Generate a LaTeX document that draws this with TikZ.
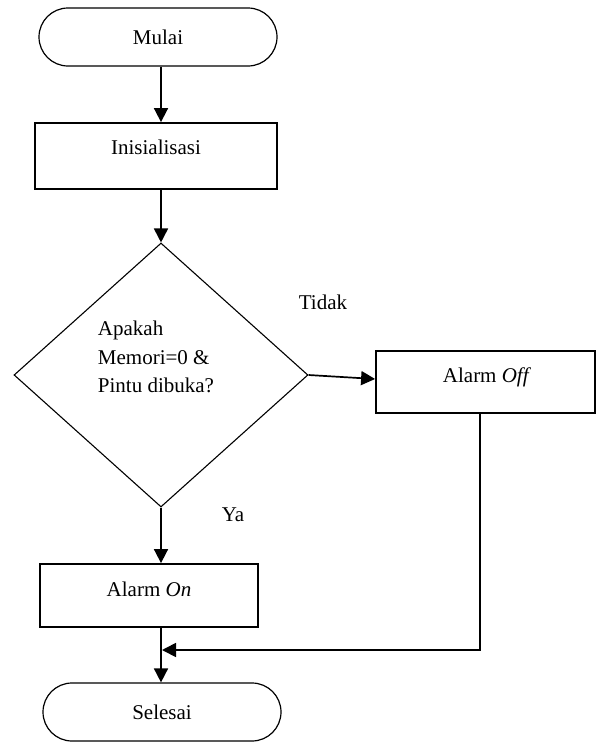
\documentclass[tikz,border=0pt]{standalone}
\usepackage{fontspec}
\setmainfont{Liberation Serif}
\newfontfamily\diagfont{Liberation Serif}
\usetikzlibrary{shapes.geometric,arrows.meta}

\begin{document}
\begin{tikzpicture}[x=1pt,y=-1pt,
  every node/.style={font=\diagfont\fontsize{21}{28.5}\selectfont},
  terminal/.style={draw, line width=1.2pt, rounded corners=29pt,
    minimum width=238pt, minimum height=58pt, inner sep=0pt},
  procbox/.style={draw, line width=1.8pt, inner sep=0pt},
  decision/.style={draw, diamond, line width=1.1pt, inner sep=0pt},
  txt/.style={inner sep=0pt},
  flow/.style={line width=1.7pt, -{Triangle[length=14pt,width=14pt]}},
  plain/.style={line width=1.7pt}
]
\useasboundingbox (0,0) rectangle (596,742);

% terminals
\node[terminal] (start) at (158,37) {Mulai};
\node[terminal] (stop) at (162,712) {Selesai};

% initialisation step
\node[procbox, minimum width=242pt, minimum height=66pt] (init) at (156,156) {};
\node[txt] (initlbl) at (156,147) {Inisialisasi};

% decision
\node[decision, minimum width=294pt, minimum height=264pt] (dec) at (161,375) {};
\node[txt, align=left] (declbl) at (156,357)
  {Apakah\\Memori=0 \&\\Pintu dibuka?};

% outcomes
\node[procbox, minimum width=219pt, minimum height=62pt] (off) at (485.5,382) {};
\node[txt] (offlbl) at (487,377) {Alarm \textit{Off}};
\node[procbox, minimum width=218pt, minimum height=63pt] (on) at (149,595.5) {};
\node[txt] (onlbl) at (149,589) {Alarm \textit{On}};

% branch labels
\node[txt] (tidak) at (323,302) {Tidak};
\node[txt] (ya) at (233,515) {Ya};

% connectors
\coordinate (join) at (162,650);
\draw[flow] (start.south -| dec.north) -- (init.north -| dec.north);
\draw[flow] (init.south -| dec.north) -- (dec.north);
\draw[flow] (dec.east) -- ([yshift=3pt]off.west);
\draw[flow] (dec.south) -- (dec.south |- on.north);
\draw[flow] (dec.south |- on.south) -- (stop.north -| dec.south);
\draw[flow] ([xshift=-5.5pt]off.south) |- (join);
\end{tikzpicture}
\end{document}
